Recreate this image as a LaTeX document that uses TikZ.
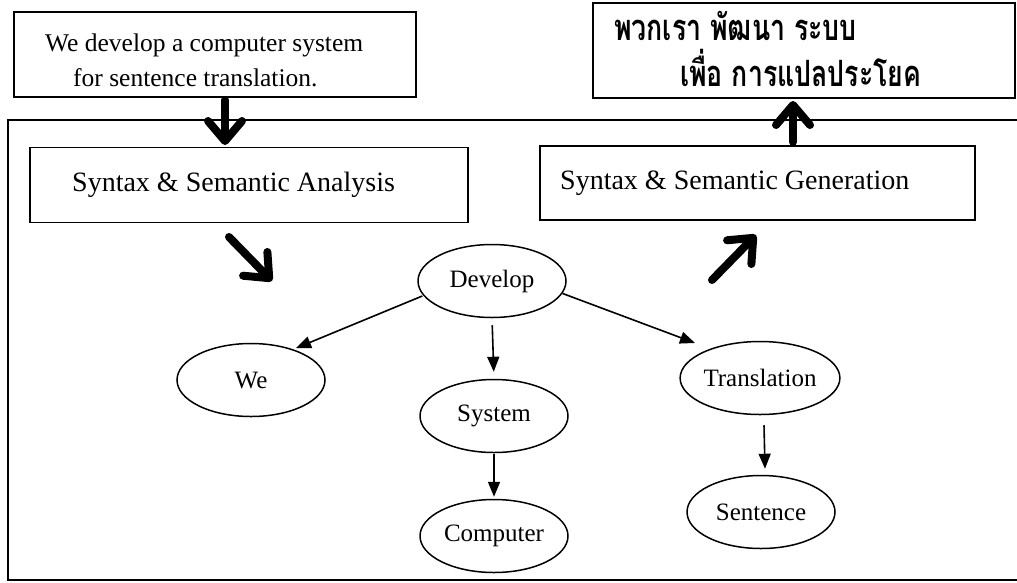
\documentclass[tikz,border=0pt]{standalone}
\usepackage{fontspec}
\setmainfont{Liberation Serif}
\newfontfamily\thaifont[Script=Thai]{Loma}
\usetikzlibrary{arrows.meta,shapes.geometric,calc}
\tikzset{
  frame/.style={draw=black, line width=1.5pt},
  boxnode/.style={draw=black, line width=1.5pt, rectangle, inner sep=0pt},
  bigtext/.style={font=\fontsize{28}{32}\selectfont, inner sep=0pt, anchor=base west},
  toptext/.style={font=\fontsize{25.5}{29}\selectfont, inner sep=0pt, anchor=base west},
  thaitext/.style={font=\thaifont\bfseries\fontsize{29}{33}\selectfont, inner sep=0pt, anchor=base west},
  oval/.style={draw=black, line width=1.5pt, ellipse, inner sep=0pt,
    minimum width=148pt, minimum height=73pt, font=\fontsize{25}{29}\selectfont},
  thin/.style={line width=1.6pt, -{Triangle[length=15pt,width=12pt]}},
  thick/.style={line width=8pt, line cap=round, line join=round,
    -{Straight Barb[length=20pt,width=34pt,line cap=round,line join=round]}}
}
\begin{document}
\begin{tikzpicture}[x=1pt,y=-1pt]
\useasboundingbox (0,0) rectangle (1017,582);
\fill[white] (0,0) rectangle (1017,582);
% big frame
\draw[frame] (8,120) rectangle (1018,580);
% top boxes
\node[boxnode, minimum width=402pt, minimum height=85pt] (src) at (215,54.5) {};
\node[toptext] (src1) at (45,51) {We develop a computer system};
\node[toptext] (src2) at (73,86) {for sentence translation.};
\node[boxnode, minimum width=422pt, minimum height=95pt] (tgt) at (804,50.5) {};
\node[thaitext] (tgt1) at (614,40) {\scalebox{0.92}[1.25]{พวกเรา พัฒนา ระบบ}};
\node[thaitext] (tgt2) at (680,86) {\scalebox{0.92}[1.25]{เพื่อ การแปลประโยค}};
% analysis / generation boxes
\node[boxnode, minimum width=438pt, minimum height=75pt] (ana) at (249,185) {};
\node[bigtext] (anat) at (72,191) {Syntax \& Semantic Analysis};
\node[boxnode, minimum width=435pt, minimum height=74pt] (gen) at (757.5,183) {};
\node[bigtext] (gent) at (560,189) {Syntax \& Semantic Generation};
% thick arrows between stages
\coordinate (d1) at (225,100);
\coordinate (d2) at (225,145);
\draw[thick] (d1) -- (d2);
\coordinate (u1) at (793,142);
\coordinate (u2) at (793,101);
\draw[thick] (u1) -- (u2);
\coordinate (a1) at (229,237);
\coordinate (a2) at (272,281);
\draw[thick] (a1) -- (a2);
\coordinate (g1) at (712,280);
\coordinate (g2) at (756,235);
\draw[thick] (g1) -- (g2);
% ellipses
\node[oval] (dev) at (492,281) {Develop};
\node[oval] (we) at (251,380) {We};
\node[oval] (sys) at (494,416) {System};
\node[oval] (comp) at (494,536) {Computer};
\node[oval] (tra) at (760,378) {Translation};
\node[oval] (sen) at (761,512) {Sentence};
% connectors
\draw[thin, shorten <=1pt, shorten >=3pt] (dev.192) -- (we.36);
\draw[thin, shorten <=7pt, shorten >=7pt] (dev.south) -- (sys.north);
\draw[thin] (dev.-10) -- ($(tra.center)+(-65,-35)$);
\draw[thin, shorten <=1pt, shorten >=2pt] (sys.south) -- (comp.north);
\draw[thin] ($(tra.south)+(4,10)$) -- ($(sen.north)+(4,-6)$);
\end{tikzpicture}
\end{document}
